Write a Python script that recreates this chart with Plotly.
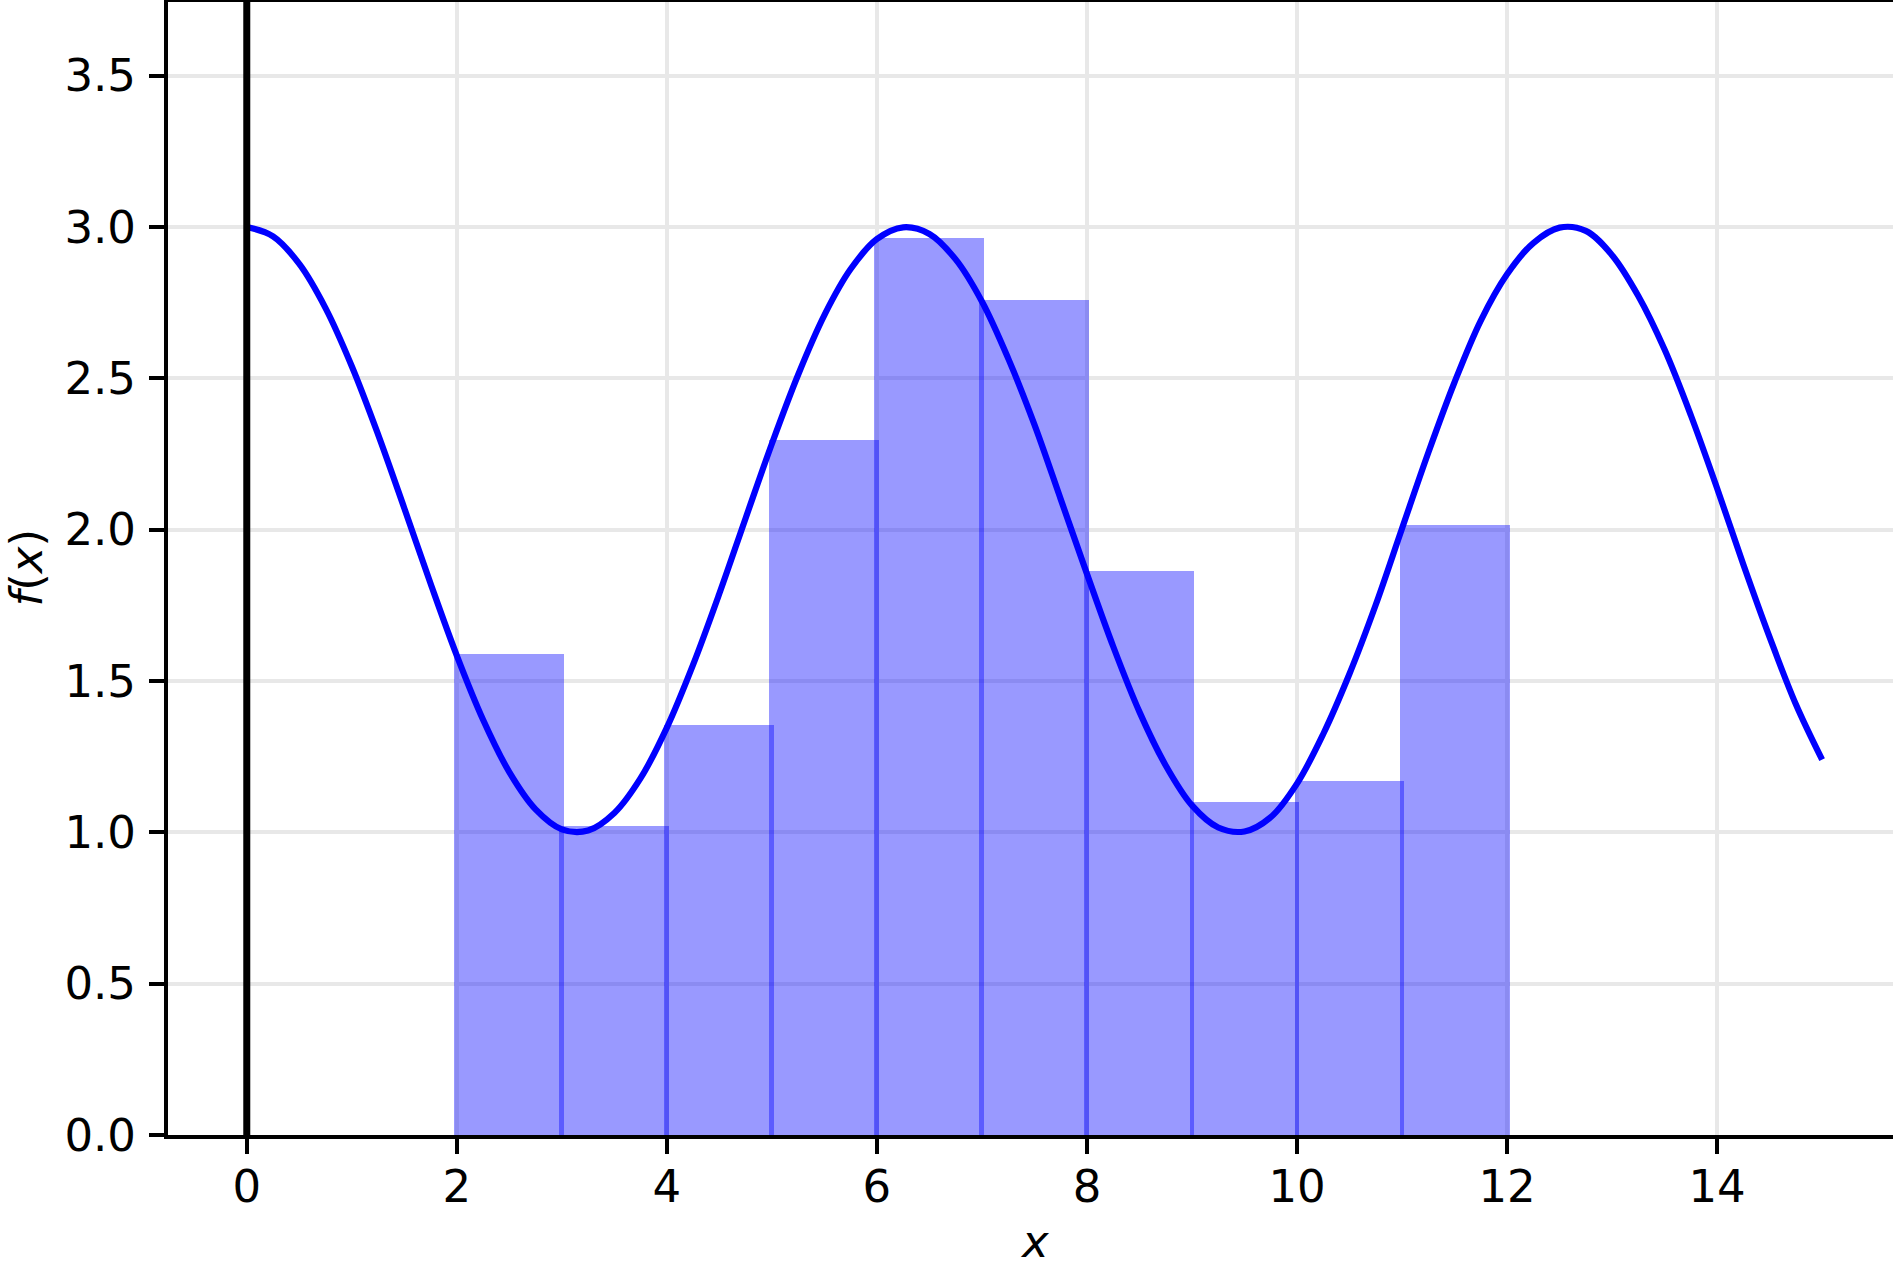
import plotly.graph_objects as go

# Curve samples
curve_x = [0, 0.25, 0.5, 0.75, 1, 1.25, 1.5, 1.75, 2, 2.25, 2.5, 2.75, 3, 3.25, 3.5, 3.75,
           4, 4.25, 4.5, 4.75, 5, 5.25, 5.5, 5.75, 6, 6.25, 6.5, 6.75, 7, 7.25, 7.5, 7.75,
           8, 8.25, 8.5, 8.75, 9, 9.25, 9.5, 9.75, 10, 10.25, 10.5, 10.75, 11, 11.25, 11.5, 11.75,
           12, 12.25, 12.5, 12.75, 13, 13.25, 13.5, 13.75, 14, 14.25, 14.5, 14.75, 15]
curve_y = [3.000, 2.969, 2.878, 2.732, 2.540, 2.315, 2.071, 1.822, 1.584, 1.372, 1.199, 1.076,
           1.010, 1.006, 1.064, 1.179, 1.346, 1.554, 1.789, 2.038, 2.284, 2.512, 2.709, 2.861,
           2.960, 2.999, 2.977, 2.893, 2.754, 2.566, 2.347, 2.101, 1.854, 1.614, 1.398, 1.221,
           1.089, 1.016, 1.003, 1.050, 1.161, 1.325, 1.524, 1.752, 2.004, 2.254, 2.487, 2.691,
           2.844, 2.947, 2.998, 2.987, 2.907, 2.772, 2.595, 2.378, 2.137, 1.885, 1.645, 1.423, 1.240]

# Bars (left edges and heights)
bar_left = [2, 3, 4, 5, 6, 7, 8, 9, 10, 11]
bar_height = [1.59, 1.02, 1.355, 2.295, 2.965, 2.76, 1.865, 1.10, 1.17, 2.015]

x_ticks = [0, 2, 4, 6, 8, 10, 12, 14]
y_ticks = [0.0, 0.5, 1.0, 1.5, 2.0, 2.5, 3.0, 3.5]
y_ticklabels = ["0.0", "0.5", "1.0", "1.5", "2.0", "2.5", "3.0", "3.5"]

FONT = "DejaVu Sans"
FS = 45

fig = go.Figure()
fig.add_trace(go.Bar(
    x=[b + 0.5 for b in bar_left], y=bar_height, width=1.047,
    marker=dict(color="rgba(0,0,255,0.4)", line=dict(width=0)),
    hoverinfo="skip", showlegend=False))
fig.add_trace(go.Scatter(
    x=curve_x, y=curve_y, mode="lines",
    line=dict(color="#0000ff", width=6.2, shape="spline", smoothing=1.0, simplify=False),
    showlegend=False))

fig.update_layout(
    width=1893, height=1263,
    margin=dict(l=168, r=0, t=0, b=128, autoexpand=False),
    plot_bgcolor="white", paper_bgcolor="white",
    font=dict(family=FONT, size=FS, color="black"),
    bargap=0,
)
fig.update_xaxes(
    range=[-0.75, 15.675], tickvals=x_ticks, ticktext=[str(v) for v in x_ticks],
    showgrid=True, gridcolor="#e8e8e8", gridwidth=4,
    showline=True, linecolor="black", linewidth=4,
    ticks="outside", ticklen=15, tickwidth=3.5, tickcolor="black",
    zeroline=False, automargin=False, ticklabelstandoff=-6,
    tickfont=dict(family=FONT, size=FS))
fig.update_yaxes(
    range=[0, 3.75], tickvals=y_ticks, ticktext=y_ticklabels,
    showgrid=True, gridcolor="#e8e8e8", gridwidth=4,
    showline=True, linecolor="black", linewidth=4,
    ticks="outside", ticklen=15, tickwidth=3.5, tickcolor="black",
    zeroline=False, automargin=False, ticklabelstandoff=4,
    tickfont=dict(family=FONT, size=FS))

# vertical line at x = 0
fig.add_shape(type="line", xref="x", yref="paper", x0=0, x1=0, y0=0, y1=1,
              line=dict(color="black", width=7), layer="above")
# top spine
fig.add_shape(type="line", xref="paper", yref="paper", x0=0, x1=1, y0=1, y1=1,
              line=dict(color="black", width=4), layer="above")

fig.add_annotation(x=7.5, xref="x", y=-0.069, yref="paper",
                   text="<i>x</i>", showarrow=False, yanchor="top",
                   font=dict(family=FONT, size=FS))
fig.add_annotation(x=-0.0823, xref="paper", y=0.5, yref="paper",
                   text="<i>f</i>(<i>x</i>)", showarrow=False, textangle=-90,
                   xanchor="center", yanchor="middle", font=dict(family=FONT, size=FS))

fig.write_html("out.html", config={"displayModeBar": False},
               post_script="document.body.style.margin='0';document.body.style.overflow='hidden';")
